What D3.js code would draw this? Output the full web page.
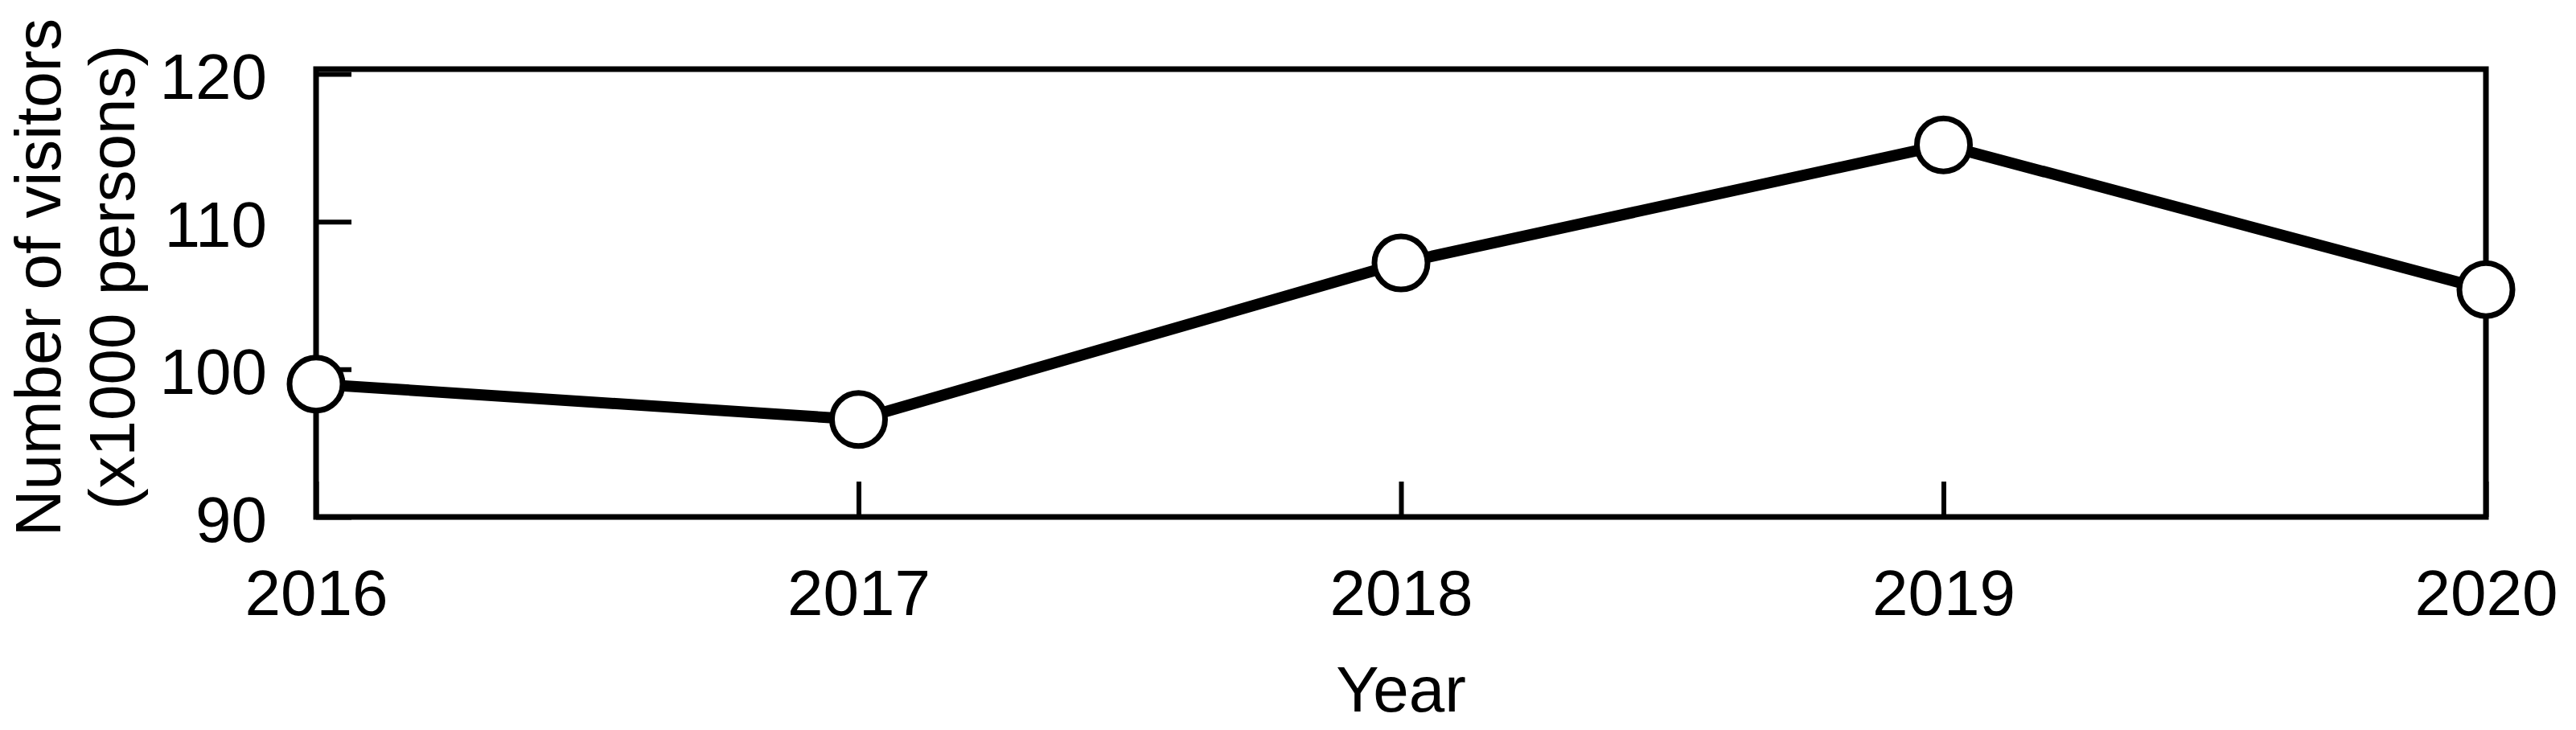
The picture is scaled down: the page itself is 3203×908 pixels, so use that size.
<!DOCTYPE html>
<html>
<head>
<meta charset="utf-8">
<script src="https://cdn.jsdelivr.net/npm/d3@7"></script>
<style>
  html, body { margin: 0; padding: 0; background: #fff; }
  svg { display: block; }
  text { font-family: "Liberation Sans", Arial, sans-serif; fill: #000; }
</style>
</head>
<body>
<svg id="chart" width="3203" height="908"></svg>
<script>
const years = [2016, 2017, 2018, 2019, 2020];
const visitors = [99.0, 96.6, 107.2, 115.2, 105.4];
const yTicks = [90, 100, 110, 120];
const xTitle = "Year";
const yTitleLines = ["Number of visitors", "(x1000 persons)"];

const svg = d3.select("#chart");
const L = 393, R = 3091, T = 86, B = 643;
const fs = 80;

const x = d3.scaleLinear().domain([2016, 2020]).range([L, R]);
const y = d3.scaleLinear().domain([90, 120]).range([B, 92]);

// frame
svg.append("rect")
  .attr("x", L).attr("y", T).attr("width", R - L).attr("height", B - T)
  .attr("fill", "none").attr("stroke", "#000").attr("stroke-width", 7);

// y ticks (inward)
const yAxis = d3.axisLeft(y).tickValues(yTicks).tickSize(-44).tickPadding(61).tickFormat(d3.format("d"));
const gy = svg.append("g").attr("transform", `translate(${L},0)`).call(yAxis);
gy.select(".domain").remove();
gy.selectAll(".tick line").attr("stroke", "#000").attr("stroke-width", 6);
gy.selectAll(".tick text").attr("font-size", fs).attr("font-family", "Liberation Sans, Arial, sans-serif")
  .attr("fill", "#000").attr("dy", "0.38em");

// x ticks (inward)
const xAxis = d3.axisBottom(x).tickValues(years).tickSize(-44).tickPadding(65).tickFormat(d3.format("d"));
const gx = svg.append("g").attr("transform", `translate(0,${B})`).call(xAxis);
gx.select(".domain").remove();
gx.selectAll(".tick line").attr("stroke", "#000").attr("stroke-width", 6);
gx.selectAll(".tick text").attr("font-size", fs).attr("font-family", "Liberation Sans, Arial, sans-serif")
  .attr("fill", "#000").attr("dy", "0.71em");

// line
const data = years.map((yr, i) => ({ yr, v: visitors[i] }));
svg.append("path")
  .datum(data)
  .attr("fill", "none").attr("stroke", "#000").attr("stroke-width", 14)
  .attr("stroke-linejoin", "round")
  .attr("d", d3.line().x(d => x(d.yr)).y(d => y(d.v)));

// markers
svg.selectAll("circle.pt").data(data).enter().append("circle")
  .attr("class", "pt")
  .attr("cx", d => x(d.yr)).attr("cy", d => y(d.v)).attr("r", 33)
  .attr("fill", "#fff").attr("stroke", "#000").attr("stroke-width", 7);

// x title
svg.append("text").attr("x", (L + R) / 2).attr("y", 885)
  .attr("text-anchor", "middle").attr("font-size", fs).text(xTitle);

// y title
const yc = 345;
[75, 167].forEach((bx, i) => {
  svg.append("text")
    .attr("transform", `translate(${bx},${yc}) rotate(-90)`)
    .attr("text-anchor", "middle").attr("font-size", fs)
    .text(yTitleLines[i]);
});
</script>
</body>
</html>
